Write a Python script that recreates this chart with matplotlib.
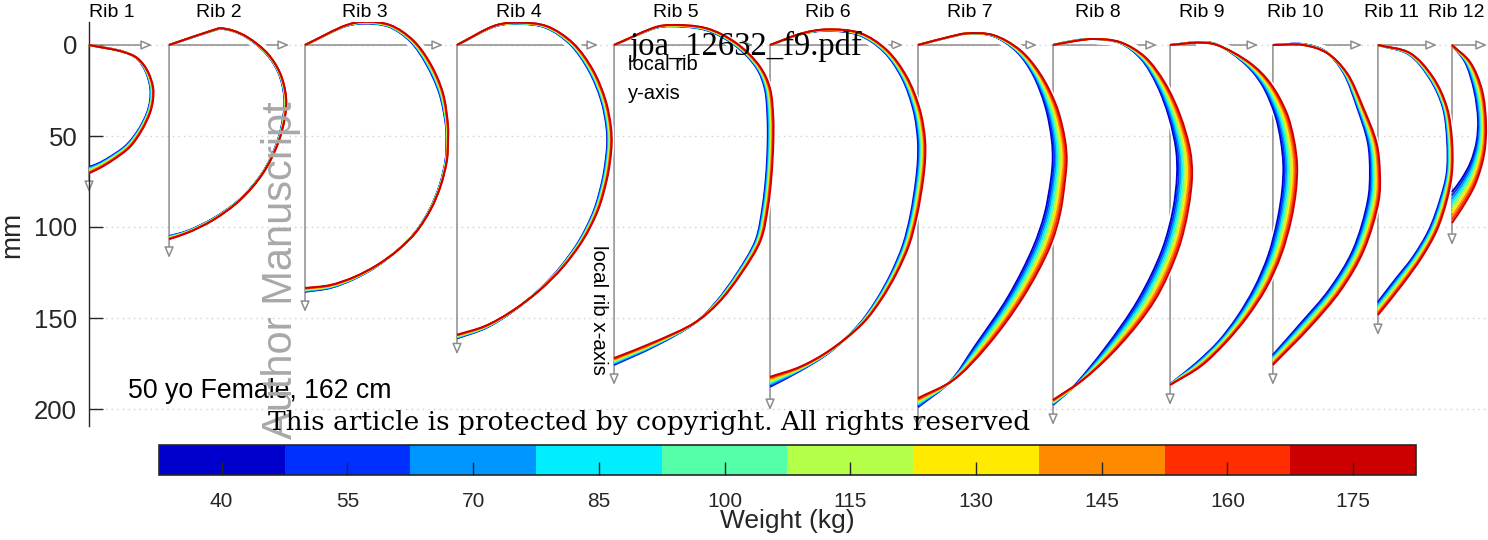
import numpy as np
import matplotlib
matplotlib.use("Agg")
import matplotlib.pyplot as plt
from matplotlib.path import Path
from matplotlib.patches import PathPatch, FancyArrowPatch
from matplotlib.colors import ListedColormap, BoundaryNorm
from matplotlib.cm import ScalarMappable

# ---------------- data (mm, local rib coordinates) ----------------
rib_names = ["Rib 1", "Rib 2", "Rib 3", "Rib 4", "Rib 5", "Rib 6",
             "Rib 7", "Rib 8", "Rib 9", "Rib 10", "Rib 11", "Rib 12"]
weights = [40, 55, 70, 85, 100, 115, 130, 145, 160, 175]
weight_colors = ["#0000CD", "#0030FF", "#0096FF", "#00EEFF", "#55FFAA",
                 "#B4FF47", "#FFEA00", "#FF8A00", "#FF2D00", "#CC0000"]
ytick_vals = [0, 50, 100, 150, 200]

rib_origin_x = [0, 44, 118.7, 202.2, 288.5, 374.2, 455.5, 529.7, 594, 650.5, 708.2, 748.9]
local_x_axis_len = [80.8, 117, 146.7, 170, 186.8, 200.6, 210.5, 208.8, 197.8, 186.8, 159.4, 109.9]
local_y_axis_len = [34.6, 65.9, 75.8, 77.5, 76.4, 73.0, 65.4, 57.1, 48.4, 48.9, 32.4, 19.2]

# outline for the lightest (40 kg) and heaviest (175 kg) subject
RIB1_LIGHT = [(0, 0), (18.7, 3.6), (26.0, 7.2), (30.8, 13.8), (33.6, 23.1), (33.6, 30.2), (31.8, 37.4),
              (27.2, 46.5), (20.3, 55.2), (11.0, 61.8), (4.8, 65.2), (0, 67.0)]
RIB1_HEAVY = [(0, 0), (18.7, 3.8), (26.4, 7.1), (31.9, 13.7), (35.2, 23.1), (35.2, 30.2), (33.5, 37.4),
              (29.1, 46.7), (22.5, 56.0), (13.2, 63.2), (6.0, 67.6), (0, 70.5)]

RIB2_LIGHT = [(0, 0), (24.2, -7.9), (28.0, -8.9), (35.2, -7.6), (42.6, -4.2), (53.2, 4.6), (60.2, 15.5),
              (63.3, 28.6), (62.7, 39.6), (59.2, 53.9), (51.3, 70.2), (38.8, 84.8), (24.2, 95.3),
              (9.9, 102.2), (0, 105.0)]
RIB2_HEAVY = [(0, 0), (24.2, -8.2), (28.0, -9.2), (35.2, -7.9), (42.9, -4.4), (53.9, 4.4), (61.0, 15.4),
              (64.3, 28.6), (63.7, 39.6), (59.9, 53.9), (51.7, 70.3), (39.0, 85.2), (24.2, 96.2),
              (9.9, 103.3), (0, 106.7)]

RIB3_LIGHT = [(0, 0), (22.9, -10.5), (31.9, -11.8), (46.2, -10.0), (58.0, -1.8), (66.6, 10.5), (73.8, 26.6),
              (77.5, 45.0), (77.7, 52.2), (77.2, 63.2), (74.0, 76.9), (68.6, 90.1), (60.6, 102.8),
              (50.8, 112.8), (39.6, 121.5), (27.1, 128.5), (13.9, 133.5), (0, 135.6)]
RIB3_HEAVY = [(0, 0), (22.9, -11.0), (31.9, -12.8), (46.7, -11.0), (59.3, -2.7), (68.7, 9.9), (75.8, 26.4),
              (78.6, 45.0), (78.6, 52.2), (78.0, 63.2), (74.7, 76.9), (69.2, 90.1), (61.0, 102.8),
              (51.1, 112.6), (39.6, 120.9), (26.9, 127.5), (13.7, 131.9), (0, 133.5)]

RIB4_LIGHT = [(0, 0), (21.8, -10.5), (34.6, -11.6), (48.8, -9.5), (62.3, -0.2), (72.5, 14.2), (79.2, 30.4),
              (82.1, 45.0), (82.5, 54.0), (81.6, 64.0), (79.9, 74.2), (75.3, 90.7), (67.3, 107.2),
              (56.8, 122.0), (44.8, 134.8), (30.0, 146.9), (15.6, 155.6), (0, 161.2)]
RIB4_HEAVY = [(0, 0), (21.8, -11.0), (34.6, -12.3), (49.3, -10.4), (63.7, -1.1), (74.7, 13.7), (81.6, 30.2),
              (84.6, 45.0), (85.0, 54.0), (84.1, 64.0), (82.3, 74.2), (77.5, 90.7), (69.2, 107.2),
              (58.2, 122.0), (45.6, 134.6), (30.2, 146.2), (15.4, 154.4), (0, 159.2)]

RIB5_LIGHT = [(0, 0), (23.4, -9.5), (30.8, -10.3), (50.5, -8.2), (66.2, 0.0), (78.2, 12.5), (82.8, 24.0),
              (84.3, 40.0), (84.4, 54.0), (83.5, 72.0), (81.6, 88.9), (77.8, 107.2), (67.6, 125.4),
              (55.8, 141.5), (44.3, 152.8), (23.0, 165.2), (0, 175.8)]
RIB5_HEAVY = [(0, 0), (23.4, -10.0), (30.8, -11.0), (50.9, -9.2), (67.4, -0.9), (80.2, 11.9), (85.7, 23.8),
              (87.5, 40.0), (87.5, 54.0), (86.5, 72.0), (84.6, 88.9), (80.6, 107.2), (70.0, 125.4),
              (57.5, 141.5), (44.5, 152.5), (22.5, 163.0), (0, 172.0)]

RIB6_LIGHT = [(0, 0), (18.1, -6.2), (31.2, -7.8), (48.8, -5.5), (62.4, 3.6), (72.4, 18.0), (78.8, 35.8),
              (81.2, 52.2), (81.2, 63.2), (80.2, 74.2), (77.2, 93.4), (73.0, 109.9), (66.6, 125.3),
              (58.4, 140.2), (48.8, 153.6), (33.0, 168.6), (16.8, 178.9), (0, 187.8)]
RIB6_HEAVY = [(0, 0), (18.1, -6.6), (31.2, -8.6), (49.5, -6.6), (64.1, 2.7), (75.1, 17.4), (82.4, 35.7),
              (85.2, 52.2), (85.2, 63.2), (84.1, 74.2), (80.8, 93.4), (76.4, 109.9), (69.6, 125.3),
              (61.0, 140.0), (51.1, 152.8), (33.0, 167.6), (16.5, 176.8), (0, 182.3)]

RIB7_LIGHT = [(0, 0), (17.6, -4.4), (26.8, -6.2), (41.0, -5.0), (54.0, 3.5), (63.0, 16.0), (70.0, 34.0),
              (73.5, 52.2), (74.0, 63.2), (73.0, 74.2), (69.5, 93.0), (63.4, 110.8), (49.5, 138.3),
              (31.0, 165.8), (17.6, 185.0), (0, 199.0)]
RIB7_HEAVY = [(0, 0), (17.6, -4.6), (26.8, -6.4), (41.2, -5.5), (56.0, 2.7), (67.0, 15.6), (76.2, 33.9),
              (80.8, 52.2), (81.7, 63.2), (80.8, 74.2), (78.0, 93.0), (72.5, 110.8), (57.9, 138.3),
              (37.7, 165.8), (19.4, 184.1), (0, 194.0)]

RIB8_LIGHT = [(0, 0), (12.1, -2.5), (22.0, -3.3), (36.8, -1.1), (48.4, 7.7), (57.1, 22.0), (63.7, 39.6),
              (67.6, 57.7), (68.1, 71.4), (65.9, 90.7), (59.9, 112.6), (46.7, 140.1), (28.6, 166.5),
              (10.4, 188.5), (0, 197.8)]
RIB8_HEAVY = [(0, 0), (12.1, -2.2), (22.0, -3.3), (36.8, -1.6), (50.6, 6.6), (61.5, 20.9), (69.8, 38.5),
              (75.3, 57.7), (76.4, 71.4), (74.2, 90.7), (68.7, 112.6), (56.0, 140.1), (36.8, 164.8),
              (17.6, 183.0), (0, 195.0)]

RIB9_LIGHT = [(0, 0), (16.5, -1.6), (25.7, -0.3), (41.2, 10.4), (50.6, 22.0), (57.7, 38.5), (60.8, 52.2),
              (62.2, 65.9), (61.6, 79.7), (59.0, 96.2), (54.0, 115.4), (46.3, 133.5), (36.8, 149.5),
              (26.3, 163.2), (13.8, 175.2), (0, 186.3)]
RIB9_HEAVY = [(0, 0), (16.5, -1.3), (25.7, 0.0), (44.0, 9.9), (55.0, 20.9), (64.1, 37.4), (68.1, 52.2),
              (69.8, 65.9), (69.2, 79.7), (66.5, 96.2), (61.0, 115.4), (52.8, 133.5), (42.3, 149.5),
              (30.8, 163.2), (17.0, 176.4), (0, 186.8)]

RIB10_LIGHT = [(0, 0), (16.5, -0.5), (28.6, 3.3), (38.5, 14.8), (46.2, 34.1), (52.2, 53.9), (53.3, 70.3),
               (52.2, 85.2), (44.0, 112.6), (30.8, 134.6), (15.9, 152.2), (0, 170.3)]
RIB10_HEAVY = [(0, 0), (16.5, 0.0), (29.7, 4.4), (40.7, 15.4), (49.5, 34.1), (57.0, 54.0), (58.8, 70.5),
               (58.2, 85.2), (50.0, 112.6), (37.4, 134.6), (20.3, 155.0), (0, 175.8)]

RIB11_LIGHT = [(0, 0), (17.0, 5.2), (28.6, 18.7), (35.7, 34.5), (38.0, 52.2), (37.8, 70.3), (34.1, 85.2),
               (28.0, 101.7), (19.2, 116.5), (9.3, 129.1), (0, 141.2)]
RIB11_HEAVY = [(0, 0), (17.6, 4.4), (30.2, 17.6), (37.9, 34.1), (40.7, 52.2), (40.7, 70.3), (37.9, 85.2),
               (32.4, 101.7), (24.2, 116.5), (13.2, 131.9), (0, 148.4)]

RIB12_LIGHT = [(0, 0), (7.1, 9.3), (12.1, 24.7), (14.3, 41.2), (13.5, 53.0), (10.2, 64.5), (5.0, 74.0), (0, 80.8)]
RIB12_HEAVY = [(0, 0), (9.9, 9.3), (16.5, 24.7), (18.7, 44.0), (17.6, 60.4), (12.6, 76.9), (5.5, 89.6), (0, 97.8)]

RIBS_LIGHT = [RIB1_LIGHT, RIB2_LIGHT, RIB3_LIGHT, RIB4_LIGHT, RIB5_LIGHT, RIB6_LIGHT,
              RIB7_LIGHT, RIB8_LIGHT, RIB9_LIGHT, RIB10_LIGHT, RIB11_LIGHT, RIB12_LIGHT]
RIBS_HEAVY = [RIB1_HEAVY, RIB2_HEAVY, RIB3_HEAVY, RIB4_HEAVY, RIB5_HEAVY, RIB6_HEAVY,
              RIB7_HEAVY, RIB8_HEAVY, RIB9_HEAVY, RIB10_HEAVY, RIB11_HEAVY, RIB12_HEAVY]

# ---------------- layout / style ----------------
plt.rcParams['font.family'] = ['Liberation Sans', 'DejaVu Sans']
W, H = 1488, 540
PX = 1.82                      # pixels per mm
TXT = '#262626'
GRAY = '#8C8C8C'
title_dx = [12.6, 27.5, 33, 34, 34, 31.9, 28.6, 24.7, 17.6, 12, 7.7, 2.2]

fig = plt.figure(figsize=(W / 100, H / 100), dpi=100)
ax = fig.add_axes([89 / W, (H - 426) / H, (W - 89) / W, 404 / H])
ax.set_xlim(0, (W - 89) / PX)
ax.set_ylim((426 - 45) / PX, (22 - 45) / PX)
for s in ['top', 'right', 'bottom']:
    ax.spines[s].set_visible(False)
ax.spines['left'].set_color(TXT)
ax.spines['left'].set_linewidth(1.0)
ax.set_xticks([])
ax.set_yticks(ytick_vals)
ax.tick_params(axis='y', direction='in', length=10, width=1, colors=TXT, labelsize=18.5, pad=8.5)
ax.set_axisbelow(True)
ax.yaxis.grid(True, linestyle=(0, (1, 3)), color='#CFCFCF', lw=1.0)
fig.text(12 / W, 1 - 235 / H, 'mm', rotation=90, ha='center', va='center', fontsize=20, color=TXT)


def smooth_path(pts, alpha=0.5):
    """Centripetal Catmull-Rom through the points, as cubic Bezier segments."""
    p = np.asarray(pts, float)
    ext = np.vstack([2 * p[0] - p[1], p, 2 * p[-1] - p[-2]])
    verts = [p[0]]
    codes = [Path.MOVETO]
    for i in range(1, len(ext) - 2):
        P0, P1, P2, P3 = ext[i - 1], ext[i], ext[i + 1], ext[i + 2]
        d1 = max(np.linalg.norm(P1 - P0) ** alpha, 1e-6)
        d2 = max(np.linalg.norm(P2 - P1) ** alpha, 1e-6)
        d3 = max(np.linalg.norm(P3 - P2) ** alpha, 1e-6)
        B1 = (d1 ** 2 * P2 - d2 ** 2 * P0 + (2 * d1 ** 2 + 3 * d1 * d2 + d2 ** 2) * P1) / (3 * d1 * (d1 + d2))
        B2 = (d3 ** 2 * P1 - d2 ** 2 * P3 + (2 * d3 ** 2 + 3 * d3 * d2 + d2 ** 2) * P2) / (3 * d3 * (d3 + d2))
        verts += [B1, B2, P2]
        codes += [Path.CURVE4] * 3
    return Path(verts, codes)


def arrow(x0, y0, x1, y1, z):
    ax.add_patch(FancyArrowPatch((x0, y0), (x1, y1),
                                 arrowstyle='-|>,head_length=0.65,head_width=0.28',
                                 mutation_scale=10, lw=1.1, edgecolor=GRAY, facecolor='white',
                                 shrinkA=0, shrinkB=0, zorder=z, clip_on=False))


cmap = ListedColormap(weight_colors)
wmin, wmax = weights[0], weights[-1]

for k in range(12):
    ox = rib_origin_x[k]
    light = np.array(RIBS_LIGHT[k], float)
    heavy = np.array(RIBS_HEAVY[k], float)
    zb = 1 + 0.1 * k
    # local axes
    arrow(ox, 0, ox + local_y_axis_len[k], 0, zb)
    arrow(ox, 0, ox, local_x_axis_len[k], zb)
    # white backing behind the descending part of the rib
    start = max(int(np.argmin(heavy[:, 1])), 1)
    for base in (light, heavy):
        seg = base[start:len(base) - 1].copy()
        seg[:, 0] += ox
        if len(seg) >= 2:
            ax.add_patch(PathPatch(smooth_path(seg), fill=False, edgecolor='white', lw=7,
                                   zorder=zb + 0.05, capstyle='round'))
            ax.add_patch(PathPatch(smooth_path(seg), fill=False, edgecolor='white', lw=3.6,
                                   zorder=2.9, capstyle='round'))
    # one outline per weight
    for i, w in enumerate(weights):
        f = (w - wmin) / (wmax - wmin)
        pts = light + f * (heavy - light)
        pts[:, 0] += ox
        ax.add_patch(PathPatch(smooth_path(pts), fill=False, edgecolor=weight_colors[i],
                               lw=1.4, zorder=3 + 0.01 * i, capstyle='butt', joinstyle='round'))
    ax.text(ox + title_dx[k], (17.3 - 45) / PX, rib_names[k], ha='center', va='baseline',
            fontsize=14, color='black', clip_on=False)

# annotations
ox5 = rib_origin_x[4]
ax.text(ox5 + 7.7, (70 - 45) / PX, 'local rib', fontsize=14.5, ha='left', va='baseline', zorder=6)
ax.text(ox5 + 7.7, (99.3 - 45) / PX, 'y-axis', fontsize=14.5, ha='left', va='baseline', zorder=6)
ax.text(ox5 - 8.8, (310 - 45) / PX, 'local rib x-axis', fontsize=14.8, rotation=270,
        ha='center', va='center', zorder=6)
ax.text((128 - 89) / PX, (398 - 45) / PX, '50 yo Female, 162 cm', fontsize=19.2,
        ha='left', va='baseline', zorder=6)

# colorbar
cax = fig.add_axes([158.8 / W, (H - 475) / H, (1416 - 158.8) / W, 30 / H])
bounds = np.concatenate([np.array(weights) - 7.5, [weights[-1] + 7.5]])
norm = BoundaryNorm(bounds, cmap.N)
cb = fig.colorbar(ScalarMappable(norm=norm, cmap=cmap), cax=cax, orientation='horizontal', ticks=weights)
cb.minorticks_off()
cb.outline.set_edgecolor(TXT)
cb.outline.set_linewidth(1.2)
cb.ax.tick_params(axis='x', which='both', direction='in', length=9.4, width=1, colors=TXT,
                  labelsize=15, pad=12)
cb.set_label('Weight (kg)', fontsize=19, color=TXT, labelpad=-1)

# watermark texts of the source page
fig.text(281 / W, 1 - 270 / H, 'Author Manuscript', rotation=90, ha='center', va='center',
         fontsize=30, color='#A8A8A8', zorder=10)
fig.text(630 / W, 1 - 55 / H, 'joa_12632_f9.pdf', family='Liberation Serif', fontsize=23.5,
         ha='left', va='baseline', color='black', zorder=10)
fig.text(649 / W, 1 - 430 / H, 'This article is protected by copyright. All rights reserved',
         family='DejaVu Serif', fontsize=19, ha='center', va='baseline', color='black', zorder=10)

fig.savefig('out.png', dpi=100)
